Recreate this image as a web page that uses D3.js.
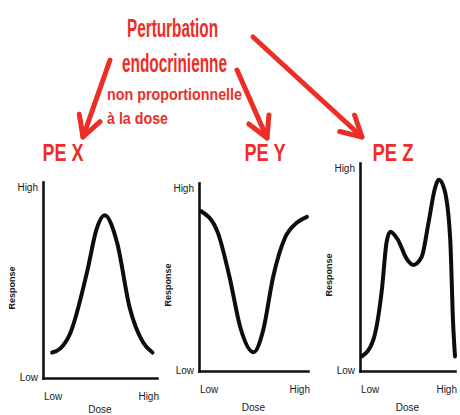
<!DOCTYPE html>
<html><head><meta charset="utf-8">
<script src="https://cdn.jsdelivr.net/npm/d3@7"></script>
<style>html,body{margin:0;padding:0;background:#fff;overflow:hidden}</style>
</head><body>
<svg id="c" width="460" height="415"></svg>
<script>
const panelTitles = ["PE X", "PE Y", "PE Z"];
const xTickLabels = ["Low", "High"];
const yTickLabels = ["Low", "High"];
const xAxisTitle = "Dose";
const yAxisTitle = "Response";
const headline = ["Perturbation", "endocrinienne"];
const subline = ["non proportionnelle", "à la dose"];

const doseX = [0.8, 1.5, 2.4, 3.9, 4.7, 5.4, 6.5, 7.6, 8.8, 9.6];
const respX = [1.3, 1.5, 2.3, 5.5, 7.6, 8.3, 6.9, 3.6, 1.8, 1.3];
const doseY = [0.2, 1.7, 2.8, 3.8, 5.0, 5.9, 6.8, 7.9, 9.0, 9.9];
const respY = [8.5, 7.4, 5.0, 2.3, 1.0, 2.2, 5.0, 7.1, 7.9, 8.2];
const doseZ = [0.2, 1.4, 2.3, 2.8, 3.2, 4.0, 4.9, 5.6, 6.5, 7.2, 7.9, 8.3, 8.9, 9.5, 9.8, 10.0];
const respZ = [0.7, 1.5, 3.9, 6.2, 6.7, 6.3, 5.4, 5.1, 5.5, 7.1, 8.8, 9.2, 8.7, 6.3, 2.3, 0.7];

const RED = "#ec2e27";
const svg = d3.select("#c");

const panels = [
  {dose: doseX, resp: respX, x0: 43, x1: 157, yTop: 182, yBot: 378, title: panelTitles[0], tx: 63, doseY: 413},
  {dose: doseY, resp: respY, x0: 199, x1: 308, yTop: 183, yBot: 371, title: panelTitles[1], tx: 265, doseY: 411},
  {dose: doseZ, resp: respZ, x0: 360, x1: 455, yTop: 163, yBot: 371, title: panelTitles[2], tx: 393, doseY: 411}
];

const fontNarrow = "'Liberation Sans Narrow','Liberation Sans',Arial,sans-serif";
const INK = "#1a1a1a";

panels.forEach(p => {
  const x = d3.scaleLinear().domain([0, 10]).range([p.x0, p.x1]);
  const y = d3.scaleLinear().domain([0, 10]).range([p.yBot, p.yTop]);
  const g = svg.append("g");
  const xAxis = d3.axisBottom(x).tickValues([]).tickSizeOuter(0);
  const yAxis = d3.axisLeft(y).tickValues([]).tickSizeOuter(0);
  const gx = g.append("g").attr("transform", `translate(0,${p.yBot})`).call(xAxis);
  const gy = g.append("g").attr("transform", `translate(${p.x0},0)`).call(yAxis);
  [gx, gy].forEach(a => a.select(".domain").attr("stroke", "#111").attr("stroke-width", 2.6).attr("stroke-linecap", "square"));
  const t = (sel) => sel.attr("font-family", fontNarrow).attr("font-size", 10).attr("fill", INK);
  t(g.append("text").attr("x", p.x0 - 5).attr("y", y(0) + 3).attr("text-anchor", "end")).text(yTickLabels[0]);
  t(g.append("text").attr("x", p.x0 - 5).attr("y", y(10) + 9).attr("text-anchor", "end")).text(yTickLabels[1]);
  t(g.append("text").attr("x", x(0) + 1).attr("y", p.yBot + 22).attr("text-anchor", "start")).text(xTickLabels[0]);
  t(g.append("text").attr("x", x(10) + 2).attr("y", p.yBot + 22).attr("text-anchor", "end")).text(xTickLabels[1]);
  t(g.append("text").attr("x", (p.x0 + p.x1) / 2).attr("y", p.doseY).attr("text-anchor", "middle")).text(xAxisTitle);
  const cy = (p.yTop + p.yBot) / 2 + 8;
  t(g.append("text").attr("transform", `translate(${p.x0 - 28},${cy}) rotate(-90)`).attr("text-anchor", "middle"))
    .attr("font-size", 9).attr("font-weight", "bold").text(yAxisTitle);
  const line = d3.line().x((d, i) => x(p.dose[i])).y((d, i) => y(p.resp[i])).curve(d3.curveMonotoneX);
  g.append("path").datum(p.resp).attr("d", line).attr("fill", "none")
    .attr("stroke", "#0d0d0d").attr("stroke-width", 4).attr("stroke-linecap", "round").attr("stroke-linejoin", "round");
  svg.append("text").attr("x", p.tx).attr("y", 161).attr("text-anchor", "middle")
    .attr("font-family", fontNarrow).attr("font-weight", "bold").attr("font-size", 24).attr("fill", RED)
    .attr("textLength", 41).attr("lengthAdjust", "spacingAndGlyphs").text(p.title);
});

const hl = svg.append("g").attr("font-family", fontNarrow).attr("font-weight", "bold").attr("fill", RED);
hl.append("text").attr("x", 127).attr("y", 37).attr("font-size", 26).attr("textLength", 91).attr("lengthAdjust", "spacingAndGlyphs").text(headline[0]);
hl.append("text").attr("x", 122).attr("y", 72).attr("font-size", 26).attr("textLength", 105).attr("lengthAdjust", "spacingAndGlyphs").text(headline[1]);
hl.append("text").attr("x", 107).attr("y", 100).attr("font-size", 17).attr("textLength", 135).attr("lengthAdjust", "spacingAndGlyphs").text(subline[0]);
hl.append("text").attr("x", 107).attr("y", 124).attr("font-size", 17).attr("textLength", 61).attr("lengthAdjust", "spacingAndGlyphs").text(subline[1]);

const arrows = [
  {from: [110, 60], to: [83, 137]},
  {from: [237, 70], to: [267, 138]},
  {from: [253, 37], to: [362, 137]}
];
arrows.forEach(a => {
  const [x1, y1] = a.from, [x2, y2] = a.to;
  const ang = Math.atan2(y2 - y1, x2 - x1);
  const L = 23, spread = 0.5;
  const p1 = [x2 - L * Math.cos(ang - spread), y2 - L * Math.sin(ang - spread)];
  const p2 = [x2 - L * Math.cos(ang + spread), y2 - L * Math.sin(ang + spread)];
  const g = svg.append("g").attr("stroke", RED).attr("stroke-width", 5).attr("fill", "none")
    .attr("stroke-linecap", "round").attr("stroke-linejoin", "round");
  g.append("line").attr("x1", x1).attr("y1", y1).attr("x2", x2).attr("y2", y2);
  g.append("path").attr("d", `M${p1[0]},${p1[1]}L${x2},${y2}L${p2[0]},${p2[1]}`);
});
</script>
</body></html>
